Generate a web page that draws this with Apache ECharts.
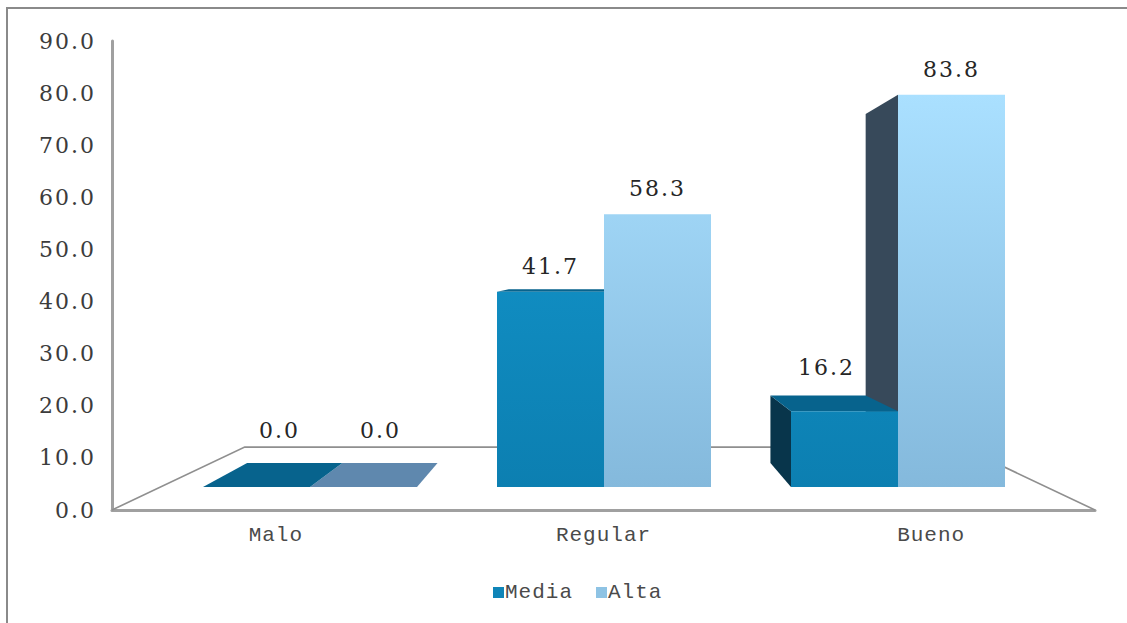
<!DOCTYPE html>
<html>
<head>
<meta charset="utf-8">
<style>
html,body{margin:0;padding:0;background:#fff;}
#c{width:1127px;height:623px;}
svg text[style*="Serif"]{letter-spacing:2px;}
svg text[style*="Mono"]{letter-spacing:1px;}
</style>
<script src="https://cdn.jsdelivr.net/npm/echarts@6/dist/echarts.min.js"></script>
</head>
<body>
<div id="c"></div>
<script>
const categories = ['Malo', 'Regular', 'Bueno'];
const mediaValues = [0.0, 41.7, 16.2];
const altaValues = [0.0, 58.3, 83.8];

// Pseudo-3D look (the values above stay independent of these)
const barDepth = 0.11, barVanish = [1, 46.6], barShare = 107 / 294;
const floorDepth = 0.27, floorVanishValue = 44.7;
const mediaNudge = [[23, -57], [0, -25], [-18, -44]];
const altaNudge = [[17, -57], [0, -26], [0, -25]];
const mediaFaces = { top: '#1499d0', bottom: '#0c7fb1', side: '#08354b', cap: '#07638d' };
const altaFaces = { top: '#aae0ff', bottom: '#84b9dc', side: '#37495a', cap: '#5f88ae' };

const maxValue = Math.max(...mediaValues, ...altaValues);
const serif = '"DejaVu Serif"', mono = '"Liberation Mono"';

function makeBar(offsetSign, faces, nudge) {
  return function (params, api) {
    const cat = api.value(0), val = api.value(1);
    const base = api.coord([cat, 0]), head = api.coord([cat, val]);
    const vp = api.coord(barVanish);
    const w = api.size([1, 0])[0] * barShare;
    const xl = base[0] + (offsetSign < 0 ? -w : 0), xr = xl + w;
    const yt = head[1], yb = base[1];
    const back = (p) => [p[0] + barDepth * (vp[0] - p[0]), p[1] + barDepth * (vp[1] - p[1])];
    const kids = [];
    const poly = (pts, fill) => kids.push({ type: 'polygon', shape: { points: pts }, style: { fill: fill } });
    const sameFace = api.coord([cat, maxValue])[1];
    if (xl > vp[0] + 0.5) poly([[xl, yt], [xl, yb], back([xl, yb]), back([xl, yt])], faces.side);
    if (xr < vp[0] - 0.5) poly([[xr, yt], [xr, yb], back([xr, yb]), back([xr, yt])], faces.side);
    if (yt > vp[1]) poly([[xl, yt], [xr, yt], back([xr, yt]), back([xl, yt])], faces.cap);
    kids.push({
      type: 'rect',
      shape: { x: xl, y: yt, width: xr - xl, height: yb - yt },
      style: {
        fill: new echarts.graphic.LinearGradient(0, sameFace, 0, yb, [
          { offset: 0, color: faces.top }, { offset: 1, color: faces.bottom }
        ], true)
      }
    });
    const n = nudge[params.dataIndex];
    kids.push({
      type: 'text',
      style: {
        text: val.toFixed(1), x: (xl + xr) / 2 + n[0], y: yt + n[1],
        align: 'center', verticalAlign: 'middle',
        fontFamily: serif, fontSize: 22, fill: '#262626'
      },
      z2: 10
    });
    return { type: 'group', children: kids };
  };
}

function renderFloor(params, api) {
  const g = params.coordSys;
  const vy = api.coord([0, floorVanishValue])[1], vx = g.x + g.width / 2;
  const y0 = g.y + g.height;
  const back = (x, y) => [x + floorDepth * (vx - x), y + floorDepth * (vy - y)];
  const a = [g.x, y0], b = back(g.x, y0), d = [g.x + g.width, y0], c = back(d[0], y0);
  return {
    type: 'polyline',
    shape: { points: [a, b, c, d] },
    style: { fill: 'none', stroke: '#8f8f8f', lineWidth: 1.6 }
  };
}

const chart = echarts.init(document.getElementById('c'), null, { renderer: 'svg' });
chart.setOption({
  animation: false,
  backgroundColor: '#ffffff',
  graphic: [{
    type: 'rect', shape: { x: 7, y: 8, width: 1300, height: 800 },
    style: { fill: 'none', stroke: '#8a8a8a', lineWidth: 2 }, silent: true
  }],
  legend: {
    data: ['Media', 'Alta'], left: 488, top: 577, itemWidth: 11, itemHeight: 11, itemGap: 28,
    icon: 'rect',
    textStyle: { fontFamily: mono, fontSize: 21, color: '#4a4a4a', padding: [0, 0, 0, -4] }
  },
  grid: [
    { left: 112, right: 32, top: 41, bottom: 113 },
    { left: 163, right: 82, top: 65.8, bottom: 136 }
  ],
  xAxis: [
    {
      type: 'category', gridIndex: 0, data: categories, boundaryGap: true,
      axisLine: { lineStyle: { color: '#a0a0a0', width: 3 } }, axisTick: { show: false },
      axisLabel: { margin: 15, fontFamily: mono, fontSize: 21, color: '#4a4a4a' }
    },
    { type: 'category', gridIndex: 1, data: categories, show: false }
  ],
  yAxis: [
    {
      type: 'value', gridIndex: 0, min: 0, max: 90, interval: 10,
      splitLine: { show: false }, axisTick: { show: false },
      axisLine: { show: true, lineStyle: { color: '#a0a0a0', width: 3 } },
      axisLabel: {
        margin: 16, fontFamily: serif, fontSize: 22, color: '#3c3c3c',
        formatter: (v) => v.toFixed(1)
      }
    },
    { type: 'value', gridIndex: 1, min: 0, max: 90, interval: 10, show: false, splitLine: { show: false } }
  ],
  series: [
    { type: 'custom', name: 'floor', xAxisIndex: 0, yAxisIndex: 0, silent: true, data: [[0, 0]], renderItem: renderFloor, clip: false },
    {
      type: 'custom', name: 'Alta', xAxisIndex: 1, yAxisIndex: 1, clip: false,
      itemStyle: { color: '#8ec3e4' },
      data: altaValues.map((v, i) => [i, v]), renderItem: makeBar(1, altaFaces, altaNudge)
    },
    {
      type: 'custom', name: 'Media', xAxisIndex: 1, yAxisIndex: 1, clip: false,
      itemStyle: { color: '#0f85b8' },
      data: mediaValues.map((v, i) => [i, v]), renderItem: makeBar(-1, mediaFaces, mediaNudge)
    }
  ]
});
</script>
</body>
</html>
